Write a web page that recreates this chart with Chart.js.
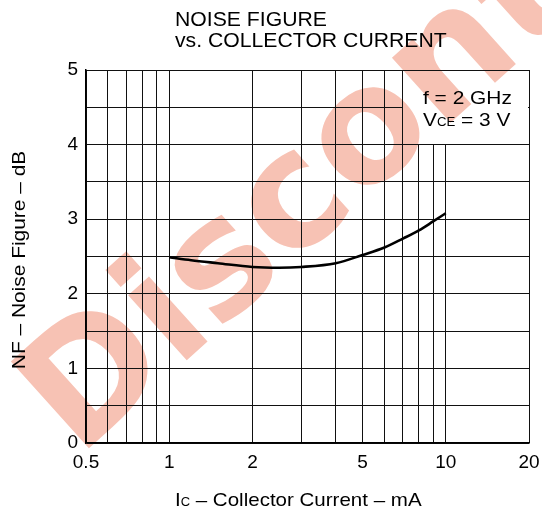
<!DOCTYPE html>
<html>
<head>
<meta charset="utf-8">
<script src="https://cdn.jsdelivr.net/npm/chart.js@4.4.1/dist/chart.umd.min.js"></script>
<style>
  body { margin: 0; background: #fff; }
  #wrap { width: 542px; height: 512px; position: relative; }
  canvas { display: block; }
</style>
</head>
<body>
<div id="wrap"><canvas id="myChart"></canvas></div>
<script>
// collector current (mA) and noise figure (dB)
const currentMA = [1, 1.2, 1.5, 2, 2.5, 3, 4, 5, 6, 7, 8, 9, 10];
const noiseFigureDB = [2.49, 2.45, 2.41, 2.36, 2.35, 2.36, 2.41, 2.52, 2.62, 2.74, 2.85, 2.97, 3.08];

// log grid lines and which of them carry a label
const xGridValues = [0.5, 0.6, 0.7, 0.8, 0.9, 1, 2, 3, 4, 5, 6, 7, 8, 9, 10, 20];
const xTickLabels = [0.5, 1, 2, 5, 10, 20];
const yTickLabels = [0, 1, 2, 3, 4, 5];

const titleLines = ["NOISE FIGURE", "vs. COLLECTOR CURRENT"];
const FONT = "'Liberation Sans', Arial, sans-serif";

const points = currentMA.map(function(c, i) {
    return {x: c, y: noiseFigureDB[i]};
});

// draws a string where some parts are subscripts: [[text, isSub], ...]
// the source text is a bit wider than Liberation Sans, hence the stretch
function drawRich(ctx, parts, x, y, size, subSize, stretch) {
    ctx.save();
    ctx.translate(x, y);
    ctx.scale(stretch, 1);
    var pos = 0;
    for (var i = 0; i < parts.length; i++) {
        ctx.font = (parts[i][1] ? subSize : size) + "px " + FONT;
        ctx.fillText(parts[i][0], pos, 0);
        pos += ctx.measureText(parts[i][0]).width;
    }
    ctx.restore();
}

const overlay = {
    id: 'overlay',
    afterDraw(chart) {
        const ctx = chart.ctx;
        const a = chart.chartArea;
        const xs = chart.scales.x, ys = chart.scales.y;

        ctx.save();
        // blank corner for the conditions box
        var bx = Math.round(xs.getPixelForValue(7) - 0.5) + 1;
        var by = Math.round(ys.getPixelForValue(4) - 0.5);
        ctx.clearRect(bx, a.top + 1, a.right - 1 - bx, by - a.top - 1);

        ctx.fillStyle = "#000";
        ctx.textBaseline = "alphabetic";
        ctx.textAlign = "left";
        drawRich(ctx, [["f = 2 GHz", false]], 423, 104, 19, 12, 1.1);
        drawRich(ctx, [["V", false], ["CE", true], [" = 3 V", false]], 423, 126, 19, 12, 1.1);

        // chart title
        drawRich(ctx, [[titleLines[0], false]], 175, 26, 20, 12, 1.06);
        drawRich(ctx, [[titleLines[1], false]], 175, 47, 20, 12, 1.06);

        // x axis title
        drawRich(ctx, [["I", false], ["C", true], [" – Collector Current – mA", false]], 175, 506, 19, 12, 1.08);

        // y axis title
        ctx.save();
        ctx.translate(25, 260);
        ctx.rotate(-Math.PI / 2);
        ctx.scale(1.1, 1);
        ctx.font = "19px " + FONT;
        ctx.textAlign = "center";
        ctx.fillText("NF – Noise Figure – dB", 0, 0);
        ctx.restore();

        // watermark and background go underneath everything
        ctx.globalCompositeOperation = "destination-over";
        ctx.save();
        ctx.translate(78, 458);
        ctx.rotate(-42 * Math.PI / 180);
        ctx.font = "bold 160px 'DejaVu Sans', sans-serif";
        ctx.fillStyle = "rgb(247, 194, 180)";
        ctx.fillText("Discontinued", 0, 0);
        ctx.restore();
        ctx.fillStyle = "#fff";
        ctx.fillRect(0, 0, chart.width, chart.height);
        ctx.restore();
    }
};

const config = {
    type: 'line',
    data: {
        datasets: [{
            data: points,
            borderColor: "#000",
            borderWidth: 2.6,
            pointRadius: 0,
            cubicInterpolationMode: 'monotone',
            fill: false,
        }],
    },
    options: {
        responsive: true,
        maintainAspectRatio: false,
        animation: false,
        events: [],
        layout: {
            autoPadding: false,
            padding: {top: 70, right: 13, left: 0, bottom: 0},
        },
        plugins: {
            legend: {display: false},
            tooltip: {enabled: false},
            title: {display: false},
        },
        scales: {
            x: {
                type: 'logarithmic',
                min: 0.5,
                max: 20,
                afterFit: function(s) {
                    s.height = 69;
                    s.paddingLeft = 0;
                    s.paddingRight = 0;
                },
                afterBuildTicks: function(s) {
                    s.ticks = xGridValues.map(function(v) { return {value: v}; });
                },
                ticks: {
                    autoSkip: false,
                    maxRotation: 0,
                    padding: 8,
                    color: "#000",
                    font: {family: FONT, size: 19},
                    callback: function(v) {
                        return xTickLabels.indexOf(v) != -1 ? String(v) : "";
                    },
                },
                grid: {color: "#111", lineWidth: 1, drawTicks: false},
                border: {color: "#000", width: 1.5},
            },
            y: {
                min: 0,
                max: 5,
                afterFit: function(s) {
                    s.width = 86;
                    s.paddingTop = 0;
                    s.paddingBottom = 0;
                },
                ticks: {
                    stepSize: 0.5,
                    padding: 8,
                    color: "#000",
                    font: {family: FONT, size: 19},
                    callback: function(v) {
                        return yTickLabels.indexOf(v) != -1 ? String(v) : "";
                    },
                },
                grid: {color: "#111", lineWidth: 1, drawTicks: false},
                border: {color: "#000", width: 1.5},
            },
        },
    },
    plugins: [overlay],
};

const myChart = new Chart(document.getElementById('myChart'), config);
</script>
</body>
</html>
